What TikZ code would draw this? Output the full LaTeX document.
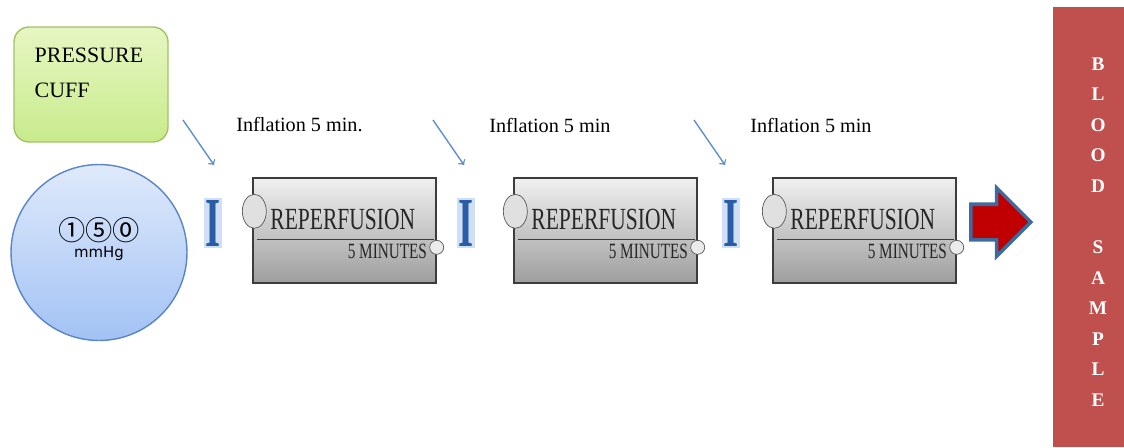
\documentclass[tikz,border=0pt]{standalone}
\usepackage{graphicx}
\usepackage{fontspec}
\setmainfont{Liberation Serif}
\newfontfamily\narrowserif[FakeStretch=0.7]{Liberation Serif}
\newfontfamily\symfont{DejaVu Sans}
\newfontfamily\cjk{Noto Sans CJK SC}
\usetikzlibrary{shapes,arrows,positioning,calc}

\definecolor{cufftop}{HTML}{E6F6C2}
\definecolor{cuffbot}{HTML}{C8EB8C}
\definecolor{cuffline}{HTML}{A3C266}
\definecolor{gaugetop}{HTML}{DFEAFB}
\definecolor{gaugebot}{HTML}{A2C2F4}
\definecolor{gaugeline}{HTML}{5A86C6}
\definecolor{reptop}{HTML}{F0F0F0}
\definecolor{repbot}{HTML}{9E9E9E}
\definecolor{repedge}{HTML}{3C3C3C}
\definecolor{clampblue}{HTML}{2B5DA6}
\definecolor{clampglow}{HTML}{CFE0F6}
\definecolor{pointblue}{HTML}{5F8FCC}
\definecolor{arrowred}{HTML}{C00000}
\definecolor{arrowline}{HTML}{3D6B9F}
\definecolor{bloodred}{HTML}{C0504D}

\begin{document}
\begin{tikzpicture}[x=0.02cm, y=-0.02cm,
        cuffbox/.style={rectangle, draw=cuffline, thick, top color=cufftop, bottom color=cuffbot, rounded corners=0.3cm, minimum width=3.08cm, minimum height=2.3cm},
        gauge/.style={circle, draw=gaugeline, thick, top color=gaugetop, bottom color=gaugebot, minimum size=3.52cm},
        repbox/.style={rectangle, draw=repedge, thick, top color=reptop, bottom color=repbot, minimum width=3.66cm, minimum height=2.1cm},
        reptitle/.style={inner sep=0, font=\narrowserif\fontsize{17.5}{20}\selectfont, text=black!85},
        repsub/.style={inner sep=0, font=\narrowserif\fontsize{12.4}{14}\selectfont, text=black!85},
        divider/.style={draw=repedge, thick},
        bigknob/.style={ellipse, draw=black!65, fill=black!12, minimum width=0.48cm, minimum height=0.68cm, inner sep=0},
        smallknob/.style={circle, draw=black!65, fill=black!8, minimum size=0.28cm, inner sep=0},
        clamp/.style={fill=clampglow, inner sep=1pt, text=clampblue, font=\bfseries\fontsize{40}{40}\selectfont},
        inflabel/.style={inner sep=0, font=\fontsize{11.5}{13}\selectfont},
        pointer/.style={->, pointblue, line width=0.8pt},
        bigarrow/.style={single arrow, draw=arrowline, line width=2pt, fill=arrowred, inner sep=0.32cm, minimum height=1.2cm, single arrow head extend=0.33cm}
    ]
    \useasboundingbox (0,0) rectangle (1124,447);

    % cuff and pressure reading
    \node[cuffbox] (cuff) at (91,84.5) {};
    \node[inner sep=0, anchor=north west, align=left, font=\fontsize{12.5}{19.9}\selectfont] (cufftext) at ($(cuff.north west)+(21,21)$) {PRESSURE\\CUFF};
    \node[inner sep=0, gauge] (gauge) at (99,252.5) {};
    \node[inner sep=0, font=\cjk\fontsize{15.5}{17}\selectfont] (reading) at (99,230) {①⑤⓪};
    \node[inner sep=0, font=\symfont\fontsize{8.5}{10}\selectfont] (unit) at (99,254) {mmHg};

    % three inflation / reperfusion cycles
    \foreach \i/\bx/\ix/\ax/\lx/\lab in {1/253/213/183/236/{Inflation 5 min.},2/514/466/433/489/{Inflation 5 min},3/773/731/694/750/{Inflation 5 min}}{
        \node[repbox] (rep\i) at (\bx+91.5,230.5) {};
        \draw[divider] ($(rep\i.north west)+(5,62)$) -- ($(rep\i.north east)+(-3,62)$);
        \node[reptitle] (title\i) at ($(rep\i.north west)+(90.5,42)$) {REPERFUSION};
        \node[repsub, anchor=east] (sub\i) at ($(rep\i.north west)+(175,74)$) {5 MINUTES};
        \node[bigknob] (knob\i) at ($(rep\i.north west)+(2,34)$) {};
        \node[smallknob] (dot\i) at ($(rep\i.north east)+(0,70)$) {};
        \node[clamp] (clamp\i) at (\ix,223) {\scalebox{0.55}[1]{I}};
        \node[inflabel, anchor=west] (infl\i) at (\lx,125) {\lab};
        \coordinate (tail\i) at (\ax,120);
        \coordinate (tip\i) at (\ax+31,165);
        \draw[pointer] (tail\i) -- (tip\i);
    }

    % to the sample
    \node[bigarrow, anchor=west] (go) at (969,222) {};
    \node[rectangle, fill=bloodred, minimum width=1.42cm, minimum height=8.8cm, inner sep=0] (blood) at (1088.5,227) {};
    \node[inner sep=0, anchor=north, align=center, text=white, font=\bfseries\fontsize{11}{17.4}\selectfont] (bloodtext) at (1098,57) {B\\L\\O\\O\\D\\~\\S\\A\\M\\P\\L\\E};

\end{tikzpicture}
\end{document}
